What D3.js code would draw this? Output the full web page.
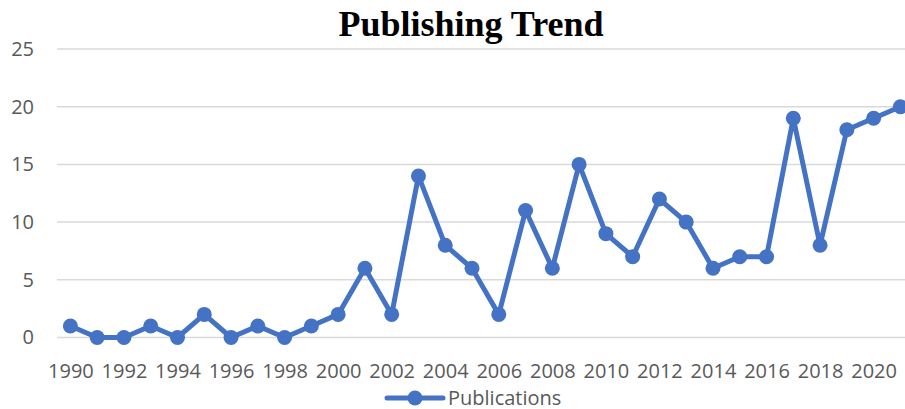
<!DOCTYPE html>
<html>
<head>
<meta charset="utf-8">
<script src="https://cdn.jsdelivr.net/npm/d3@7"></script>
<style>
  body { margin: 0; background: #fff; }
  .axis text { font-family: "Open Sans", sans-serif; fill: #595959; }
</style>
</head>
<body>
<div class="chart"></div>
<script>
// data
var years = [1990, 1991, 1992, 1993, 1994, 1995, 1996, 1997, 1998, 1999,
             2000, 2001, 2002, 2003, 2004, 2005, 2006, 2007, 2008, 2009,
             2010, 2011, 2012, 2013, 2014, 2015, 2016, 2017, 2018, 2019,
             2020, 2021];
var publications = [1, 0, 0, 1, 0, 2, 0, 1, 0, 1,
                    2, 6, 2, 14, 8, 6, 2, 11, 6, 15,
                    9, 7, 12, 10, 6, 7, 7, 19, 8, 18,
                    19, 20];
var yTicks = [0, 5, 10, 15, 20, 25];
var xTickLabels = years.filter(function(y){ return y % 2 === 0; });

var width = 905, height = 409;
var blue = "#4472C4";

var svg = d3.select(".chart").append("svg")
    .attr("width", width)
    .attr("height", height);

var x = d3.scalePoint().domain(years).range([70.4, 900.4]);
var y = d3.scaleLinear().domain([0, 25]).range([337.5, 49]);

// title
svg.append("text")
    .attr("x", 471)
    .attr("y", 36)
    .attr("text-anchor", "middle")
    .style("font-family", "'Liberation Serif', 'Times New Roman', serif")
    .style("font-weight", "bold")
    .style("font-size", "36px")
    .style("fill", "#000")
    .text("Publishing Trend");

// gridlines
svg.append("g")
    .selectAll("line")
    .data(yTicks)
    .enter().append("line")
    .attr("x1", 57)
    .attr("x2", width)
    .attr("y1", function(d){ return y(d); })
    .attr("y2", function(d){ return y(d); })
    .style("stroke", "#d9d9d9")
    .style("stroke-width", 1.5);

// y axis labels
var yAxis = d3.axisLeft(y).tickValues(yTicks).tickSize(0).tickPadding(0);
svg.append("g")
    .attr("class", "axis")
    .attr("transform", "translate(34,0)")
    .call(yAxis)
    .call(function(g){ g.select(".domain").remove(); })
    .selectAll("text")
    .style("font-size", "20px");

// x axis labels
var xAxis = d3.axisBottom(x).tickValues(xTickLabels).tickSize(0).tickPadding(0);
svg.append("g")
    .attr("class", "axis")
    .attr("transform", "translate(0,364)")
    .call(xAxis)
    .call(function(g){ g.select(".domain").remove(); })
    .selectAll("text")
    .style("font-size", "20px");

// the line
var points = years.map(function(d, i){ return {year: d, value: publications[i]}; });

var line = d3.line()
    .x(function(d){ return x(d.year); })
    .y(function(d){ return y(d.value); });

svg.append("path")
    .datum(points)
    .attr("d", line)
    .style("fill", "none")
    .style("stroke", blue)
    .style("stroke-width", 5)
    .style("stroke-linejoin", "round");

svg.append("g")
    .selectAll("circle")
    .data(points)
    .enter().append("circle")
    .attr("cx", function(d){ return x(d.year); })
    .attr("cy", function(d){ return y(d.value); })
    .attr("r", 7.5)
    .style("fill", blue);

// legend
var legend = svg.append("g").attr("transform", "translate(387,398)");
legend.append("line")
    .attr("x1", 0).attr("x2", 56)
    .style("stroke", blue)
    .style("stroke-width", 5)
    .style("stroke-linecap", "round");
legend.append("circle")
    .attr("cx", 28)
    .attr("r", 7.5)
    .style("fill", blue);
legend.append("text")
    .attr("x", 61)
    .attr("y", 6.5)
    .style("font-family", "'Open Sans', sans-serif")
    .style("font-size", "20px")
    .style("fill", "#595959")
    .text("Publications");
</script>
</body>
</html>
